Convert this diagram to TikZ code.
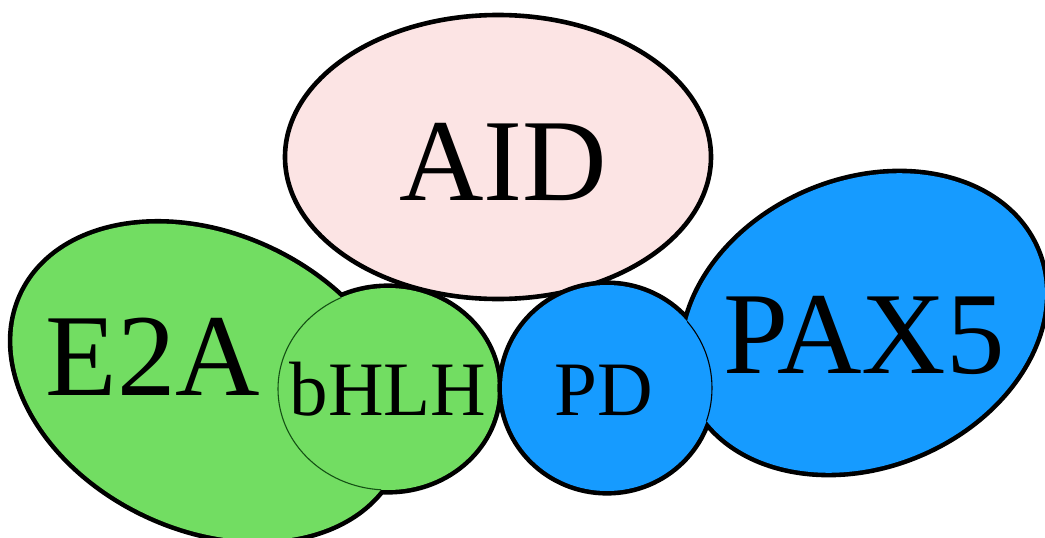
\documentclass[tikz,border=0pt]{standalone}
\usepackage{fontspec}
\setmainfont{Liberation Serif}

\definecolor{aidpink}{RGB}{252,228,228}
\definecolor{egreen}{RGB}{114,221,98}
\definecolor{seamgreen}{RGB}{20,80,20}
\definecolor{paxblue}{RGB}{22,155,255}

\tikzset{
	rim/.style={line width=4.6pt},
	outline/.style={line width=9.2pt},
	seam/.style={line width=1.1pt},
	bigname/.style={anchor=base, inner sep=0pt, font=\fontsize{117}{120}\selectfont},
	smallname/.style={anchor=base, inner sep=0pt, font=\fontsize{77}{80}\selectfont},
}

\newcommand{\etwoapath}{[rotate around={-25.3:(208,382)}] (208,382) ellipse [x radius=205, y radius=146]}
\newcommand{\bhlhpath}{(388,389) ellipse [x radius=110, y radius=101]}
\newcommand{\paxpath}{[rotate around={23:(864,323)}] (864,323) ellipse [x radius=187, y radius=142]}
\newcommand{\pdpath}{(607,388) ellipse [x radius=105, y radius=103]}

\begin{document}
\begin{tikzpicture}[x=1pt,y=-1pt]
	\useasboundingbox (0,0) rectangle (1045,538);
	
	\filldraw[rim, fill=aidpink] (498,157) ellipse [x radius=213, y radius=142];
	
	% E2A with its bHLH domain
	\draw[outline] \etwoapath;
	\draw[outline] \bhlhpath;
	\fill[egreen] \etwoapath;
	\fill[egreen] \bhlhpath;
	\begin{scope}
		\clip \etwoapath;
		\draw[seam, seamgreen] \bhlhpath;
	\end{scope}
	
	% PAX5 with its paired domain
	\draw[outline] \paxpath;
	\draw[outline] \pdpath;
	\fill[paxblue] \paxpath;
	\fill[paxblue] \pdpath;
	\begin{scope}
		\clip \paxpath;
		\draw[seam, black] \pdpath;
	\end{scope}
	
	\node[bigname] (aid) at (503,200) {AID};
	\node[bigname] (e2a) at (153,395) {E2A};
	\node[smallname] (bhlh) at (388,415) {bHLH};
	\node[smallname] (pd) at (604,415) {PD};
	\node[bigname] (pax5) at (864,373) {PAX5};
\end{tikzpicture}
\end{document}
